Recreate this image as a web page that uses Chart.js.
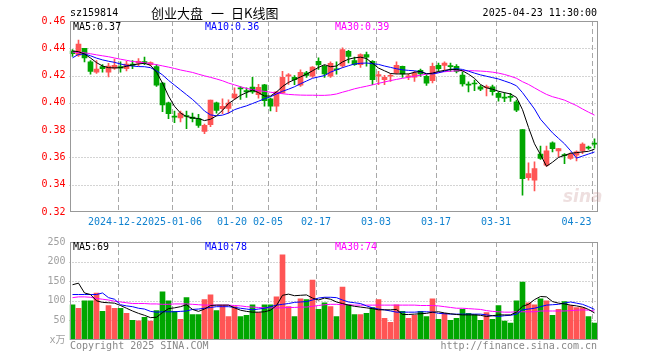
<!DOCTYPE html>
<html>
<head>
<meta charset="utf-8">
<script src="https://cdn.jsdelivr.net/npm/chart.js@4.4.0/dist/chart.umd.min.js"></script>
<style>
  html, body { margin: 0; padding: 0; background: #fff; }
  #wrap { position: relative; width: 660px; height: 360px; }
  canvas { position: absolute; left: 0; }
  #priceChart { top: 0; }
  #volChart { top: 232px; }
</style>
</head>
<body>
<div id="wrap">
  <canvas id="priceChart" width="660" height="232"></canvas>
  <canvas id="volChart" width="660" height="128"></canvas>
</div>
<script>
// ---- data ----
const code = 'sz159814';
const title = '创业大盘 一 日K线图';
const stamp = '2025-04-23 11:30:00';

const dates = [
  '2024-12-11','2024-12-12','2024-12-13','2024-12-16','2024-12-17','2024-12-18','2024-12-19','2024-12-20','2024-12-23','2024-12-24',
  '2024-12-25','2024-12-26','2024-12-27','2024-12-30','2024-12-31','2025-01-02','2025-01-03','2025-01-06','2025-01-07','2025-01-08',
  '2025-01-09','2025-01-10','2025-01-13','2025-01-14','2025-01-15','2025-01-16','2025-01-17','2025-01-20','2025-01-21','2025-01-22',
  '2025-01-23','2025-01-24','2025-01-27','2025-02-05','2025-02-06','2025-02-07','2025-02-10','2025-02-11','2025-02-12','2025-02-13',
  '2025-02-14','2025-02-17','2025-02-18','2025-02-19','2025-02-20','2025-02-21','2025-02-24','2025-02-25','2025-02-26','2025-02-27',
  '2025-02-28','2025-03-03','2025-03-04','2025-03-05','2025-03-06','2025-03-07','2025-03-10','2025-03-11','2025-03-12','2025-03-13',
  '2025-03-14','2025-03-17','2025-03-18','2025-03-19','2025-03-20','2025-03-21','2025-03-24','2025-03-25','2025-03-26','2025-03-27',
  '2025-03-28','2025-03-31','2025-04-01','2025-04-02','2025-04-03','2025-04-07','2025-04-08','2025-04-09','2025-04-10','2025-04-11',
  '2025-04-14','2025-04-15','2025-04-16','2025-04-17','2025-04-18','2025-04-21','2025-04-22','2025-04-23'
];

const tickDates = ['2024-12-23','2025-01-06','2025-01-20','2025-02-05','2025-02-17','2025-03-03','2025-03-17','2025-03-31','2025-04-23'];
const tickText  = ['2024-12-23','2025-01-06','01-20','02-05','02-17','03-03','03-17','03-31','04-23'];

const opens = [
  .438,.435,.440,.430,.4225,.4265,.4225,.4255,.4265,.425,
  .4285,.429,.430,.428,.4265,.4145,.400,.390,.389,.3905,
  .3895,.3885,.379,.384,.400,.3958,.396,.4037,.4107,.409,
  .4115,.406,.4133,.403,.3975,.4072,.4195,.4187,.413,.4221,
  .4195,.4305,.4268,.4195,.4248,.427,.4378,.431,.428,.4353,
  .4305,.4195,.417,.4195,.422,.4268,.419,.4188,.4238,.4195,
  .4163,.4275,.4275,.427,.4268,.4204,.4135,.4145,.4118,.4112,
  .4118,.4069,.404,.4045,.4008,.3805,.3452,.3433,.3624,.3543,
  .3707,.3648,.3618,.3592,.3616,.3648,.3673,.370
];
const highs = [
  .439,.446,.440,.431,.431,.428,.429,.432,.430,.4305,
  .431,.4325,.4335,.430,.428,.415,.4005,.394,.394,.394,
  .3925,.3915,.3845,.402,.4005,.403,.4023,.411,.412,.411,
  .4187,.4135,.4135,.4035,.4085,.4231,.4215,.420,.4243,.4231,
  .4265,.433,.4275,.430,.430,.4403,.4385,.4335,.436,.4373,
  .431,.4231,.4202,.4212,.430,.427,.4212,.4231,.4248,.4202,
  .4292,.4292,.430,.4292,.428,.4228,.4155,.4167,.413,.413,
  .413,.408,.4074,.407,.402,.3805,.356,.3567,.3683,.3683,
  .3715,.3667,.3628,.3634,.3648,.3707,.3683,.3736
];
const lows = [
  .434,.434,.430,.421,.4215,.4225,.419,.4245,.4225,.4235,
  .425,.427,.428,.427,.412,.3935,.3885,.3855,.386,.381,
  .386,.382,.3775,.3825,.3925,.392,.3925,.4025,.4025,.404,
  .407,.4035,.3975,.394,.3935,.407,.4135,.4133,.412,.4187,
  .4187,.4245,.4187,.4187,.421,.426,.4292,.4275,.426,.4268,
  .4133,.4133,.4133,.4158,.4212,.4187,.417,.4158,.4194,.4128,
  .4146,.4231,.4243,.4231,.4219,.4123,.408,.409,.409,.405,
  .4057,.4012,.4008,.401,.3935,.3323,.3433,.3355,.3585,.3535,
  .364,.3604,.3555,.3585,.3575,.3628,.3658,.3668
];
const closes = [
  .436,.443,.433,.423,.4248,.425,.427,.4275,.4255,.4285,
  .4275,.4305,.4295,.4295,.413,.3985,.392,.3895,.3925,.390,
  .3885,.3835,.3835,.402,.3945,.3975,.3998,.4065,.4102,.408,
  .408,.4114,.4016,.3975,.408,.4187,.4205,.417,.4224,.4202,
  .4263,.428,.4212,.429,.4243,.439,.4341,.428,.4353,.4335,
  .417,.4208,.4187,.4202,.4275,.4212,.4195,.4219,.4212,.4145,
  .4268,.425,.4292,.4265,.4231,.4138,.413,.4138,.410,.4118,
  .4082,.404,.4035,.404,.3947,.3445,.3482,.3518,.3592,.3648,
  .3665,.3665,.3613,.3624,.3641,.3697,.3668,.3697
];

const ma5 = [
  .4380,.4375,.4358,.4329,.4295,.4270,.4258,.4256,.4258,.4268,
  .4278,.4285,.4290,.4275,.4225,.4145,.4050,.3975,.3925,.3900,
  .3890,.3885,.3870,.3880,.3905,.3945,.3995,.4025,.4055,.4075,
  .4095,.4075,.4050,.4050,.4080,.4120,.4150,.4170,.4190,.4210,
  .4235,.4260,.4280,.4265,.4270,.4300,.4320,.4330,.4335,.4325,
  .4290,.4255,.4235,.4215,.4212,.4212,.4212,.4224,.4230,.4212,
  .4218,.4230,.4238,.4245,.4245,.4235,.4210,.4180,.4135,.4110,
  .4100,.4085,.4075,.4065,.4040,.3950,.3820,.3700,.3620,.3535,
  .3565,.3600,.3615,.3630,.3635,.3640,.3645,.3660
];
const ma10 = [
  .4330,.4355,.4358,.4345,.4328,.4315,.4305,.4297,.4285,.4275,
  .4270,.4266,.4265,.4258,.4235,.4205,.4165,.4130,.4095,.4060,
  .4025,.3985,.3940,.3912,.3905,.3910,.3925,.3950,.3965,.3978,
  .3995,.4012,.4030,.4045,.4065,.4085,.4100,.4118,.4140,.4160,
  .4180,.4190,.4200,.4225,.4242,.4258,.4272,.4285,.4290,.4292,
  .4287,.4282,.4270,.4260,.4250,.4242,.4238,.4235,.4228,.4215,
  .4212,.4220,.4232,.4245,.4250,.4245,.4232,.4218,.4205,.4195,
  .4185,.4175,.4160,.4145,.4125,.4075,.4015,.3955,.3880,.3830,
  .3780,.3740,.3700,.3650,.3595,.3610,.3625,.3640
];
const ma30 = [
  .4372,.4370,.4367,.4360,.4352,.4345,.4338,.4329,.4320,.4312,
  .4303,.4299,.4294,.4288,.4280,.4271,.4262,.4252,.4241,.4232,
  .4223,.4210,.4198,.4187,.4175,.4162,.4145,.4132,.4118,.4106,
  .4097,.4090,.4084,.4078,.4072,.4067,.4062,.4059,.4057,.4056,
  .4056,.4055,.4055,.4058,.4065,.4078,.4090,.4103,.4113,.4122,
  .4132,.4143,.4153,.4163,.4172,.4180,.4187,.4195,.4203,.4210,
  .4218,.4224,.4228,.4232,.4235,.4236,.4236,.4235,.4233,.4230,
  .4225,.4218,.4208,.4195,.4180,.4155,.4135,.4110,.4085,.4062,
  .4045,.4033,.4020,.4000,.3980,.3955,.3932,.3910
];

const volumes = [
  90,81,100,100,120,73,88,81,81,68,
  50,49,58,48,75,123,100,73,53,108,
  65,65,103,115,75,88,60,85,60,63,
  90,70,90,90,110,217,85,60,105,103,
  153,78,95,85,60,135,90,65,65,68,
  83,103,55,45,90,73,55,63,73,60,
  105,53,68,50,55,78,68,65,50,70,
  53,88,48,43,100,148,95,90,105,100,
  63,78,98,88,83,83,60,43
];
const volMa5 = [
  141,145,120,116,100,96,95,94,88,81,
  74,68,63,57,58,70,80,82,85,90,
  78,73,79,88,89,89,89,82,76,73,
  71,71,72,76,88,114,117,113,114,115,
  107,102,107,104,97,93,89,86,84,82,
  80,77,77,77,78,65,65,66,67,68,
  71,72,69,67,65,64,64,64,63,60,
  62,64,64,64,71,86,91,103,111,110,
  98,94,92,89,87,84,78,69
];
const volMa10 = [
  116,116,116,116,116,120,108,104,90,87,
  85,81,79,73,71,72,72,72,73,74,
  78,79,81,83,85,85,85,83,81,79,
  77,79,81,85,89,91,93,96,97,98,
  102,107,109,109,108,102,97,95,93,87,
  82,79,77,74,71,71,71,71,72,72,
  71,68,67,66,66,66,66,66,66,64,
  62,60,62,63,66,77,79,81,85,89,
  90,91,94,97,94,91,85,78
];
const volMa30 = [
  108,110,110,109,106,104,102,99,97,95,
  93,93,93,92,92,91,91,92,92,92,
  91,90,89,89,89,89,89,88,87,85,
  84,83,82,82,82,82,83,83,84,84,
  86,88,90,91,91,90,90,89,89,89,
  89,89,89,89,89,89,89,89,88,88,
  88,87,85,83,81,81,80,79,78,75,
  73,72,71,71,72,72,72,72,74,74,
  74,74,74,75,76,77,76,74
];

// ---- styles ----
const MONO = '"DejaVu Sans Mono", "Noto Sans CJK SC", monospace';
const UP = '#ff5555', DOWN = '#00a600';
const GRID = '#a8a8a8', FRAME = '#999999', XCOL = '#1082d0';

const last = dates.length - 1;
const tickIdx = tickDates.map(d => dates.indexOf(d));
const candleColors = closes.map((c, i) => c >= opens[i] ? UP : DOWN);

// dotted horizontal + dashed vertical grid, then frame on top
const panelGrid = {
  id: 'panelGrid',
  beforeDatasetsDraw(chart) {
    const {ctx, chartArea: a, scales: {x, y}} = chart;
    ctx.save();
    ctx.lineWidth = 1;
    ctx.strokeStyle = GRID;
    ctx.setLineDash([1, 2]);
    y.ticks.forEach(t => {
      if (t.value <= y.min + 1e-9 || t.value >= y.max - 1e-9) return;
      const py = Math.round(y.getPixelForValue(t.value)) + 0.5;
      ctx.beginPath(); ctx.moveTo(a.left, py); ctx.lineTo(a.right, py); ctx.stroke();
    });
    ctx.setLineDash([5, 3]);
    tickIdx.forEach(i => {
      const px = Math.round(x.getPixelForValue(i) - 3) + 0.5;
      ctx.beginPath(); ctx.moveTo(px, a.top); ctx.lineTo(px, a.bottom); ctx.stroke();
    });
    ctx.restore();
  },
  afterDatasetsDraw(chart) {
    const {ctx, chartArea: a} = chart;
    ctx.save();
    ctx.strokeStyle = FRAME;
    ctx.lineWidth = 1;
    const l = Math.round(a.left) + 0.5, r = Math.round(a.right) - 0.5;
    const t = Math.round(a.top) + 0.5, b = Math.round(a.bottom) - 0.5;
    ctx.strokeRect(l, t, r - l, b - t);
    ctx.restore();
  }
};

const priceText = {
  id: 'priceText',
  afterDraw(chart) {
    const {ctx, chartArea: a, scales: {x}} = chart;
    ctx.save();
    ctx.textBaseline = 'middle';
    ctx.font = '10px ' + MONO;
    ctx.fillStyle = '#000';
    ctx.textAlign = 'left';
    ctx.fillText(code, 70, 13);
    ctx.textAlign = 'right';
    ctx.fillText(stamp, 597, 13);
    // title words spaced out like the original
    ctx.textAlign = 'left';
    ctx.font = '13px "Noto Sans CJK SC"';
    const parts = title.split(' ');
    [151, 211, 231].forEach((px, k) => ctx.fillText(parts[k], px, 13));

    ctx.font = '10px ' + MONO;
    ctx.fillStyle = '#000';
    ctx.fillText('MA5:' + ma5[last].toFixed(2), 73, 27);
    ctx.fillStyle = '#0000ff';
    ctx.fillText('MA10:' + ma10[last].toFixed(2), 205, 27);
    ctx.fillStyle = '#ff00ff';
    ctx.fillText('MA30:' + ma30[last].toFixed(2), 335, 27);

    // date labels, later ones painted over earlier ones
    ctx.textAlign = 'center';
    tickIdx.forEach((idx, k) => {
      const t = tickText[k];
      const w = ctx.measureText(t).width;
      const gx = Math.round(x.getPixelForValue(idx) - 3);
      const cx = Math.min(gx, a.right - 6 - w / 2);
      ctx.fillStyle = '#fff';
      ctx.fillRect(cx - w / 2, 216, w, 12);
      ctx.fillStyle = XCOL;
      ctx.fillText(t, cx, 222);
    });

    // faint watermark
    ctx.textAlign = 'left';
    ctx.font = 'italic bold 17px "DejaVu Sans"';
    ctx.fillStyle = 'rgba(200,150,150,0.3)';
    ctx.fillText('sina', 563, 198);
    ctx.restore();
  }
};

const volText = {
  id: 'volText',
  afterDraw(chart) {
    const {ctx} = chart;
    ctx.save();
    ctx.textBaseline = 'middle';
    ctx.font = '10px ' + MONO;
    ctx.textAlign = 'left';
    ctx.fillStyle = '#000';
    ctx.fillText('MA5:' + volMa5[last], 73, 15);
    ctx.fillStyle = '#0000ff';
    ctx.fillText('MA10:' + volMa10[last], 205, 15);
    ctx.fillStyle = '#ff00ff';
    ctx.fillText('MA30:' + volMa30[last], 335, 15);
    ctx.fillStyle = '#888';
    ctx.fillText('Copyright 2025 SINA.COM', 70, 114);
    ctx.textAlign = 'right';
    ctx.fillText('http://finance.sina.com.cn', 597, 114);
    ctx.restore();
  }
};

const lineDs = (label, data, color, order) => ({
  type: 'line', label, data, borderColor: color, borderWidth: 1,
  pointRadius: 0, tension: 0, fill: false, order
});

const common = {
  responsive: false,
  animation: false,
  events: [],
  plugins: {legend: {display: false}, tooltip: {enabled: false}},
};

// Price panel
new Chart(document.getElementById('priceChart'), {
  type: 'bar',
  data: {
    labels: dates,
    datasets: [
      lineDs('MA5', ma5, '#000000', 0),
      lineDs('MA10', ma10, '#0000ff', 1),
      lineDs('MA30', ma30, '#ff00ff', 2),
      {label: 'body', data: opens.map((o, i) => [o, closes[i]]), backgroundColor: candleColors,
       barThickness: 5, minBarLength: 1, grouped: false, order: 3},
      {label: 'wick', data: lows.map((l, i) => [l, highs[i]]), backgroundColor: candleColors,
       barThickness: 1, grouped: false, order: 4}
    ]
  },
  options: {
    ...common,
    layout: {padding: {left: 0, right: 62.5, top: 21, bottom: 20}},
    scales: {
      x: {display: false, offset: true},
      y: {
        min: 0.32, max: 0.46,
        afterFit(s) { s.width = 69.5; },
        grid: {display: false, drawTicks: false},
        border: {display: false},
        ticks: {stepSize: 0.02, color: '#ff0000', padding: 4, font: {family: MONO, size: 10},
                callback: v => v.toFixed(2)}
      }
    }
  },
  plugins: [panelGrid, priceText]
});

// Volume panel
new Chart(document.getElementById('volChart'), {
  type: 'bar',
  data: {
    labels: dates,
    datasets: [
      lineDs('MA5', volMa5, '#000000', 0),
      lineDs('MA10', volMa10, '#0000ff', 1),
      lineDs('MA30', volMa30, '#ff00ff', 2),
      {label: 'vol', data: volumes, backgroundColor: candleColors, barThickness: 5, order: 3}
    ]
  },
  options: {
    ...common,
    layout: {padding: {left: 0, right: 62.5, top: 8, bottom: 20}},
    scales: {
      x: {display: false, offset: true},
      y: {
        min: 0, max: 250,
        afterFit(s) { s.width = 69.5; },
        grid: {display: false, drawTicks: false},
        border: {display: false},
        ticks: {stepSize: 50, color: '#a0a0a0', padding: 4, font: {family: MONO, size: 10},
                callback: v => v === 0 ? 'x万' : v}
      }
    }
  },
  plugins: [panelGrid, volText]
});
</script>
</body>
</html>
